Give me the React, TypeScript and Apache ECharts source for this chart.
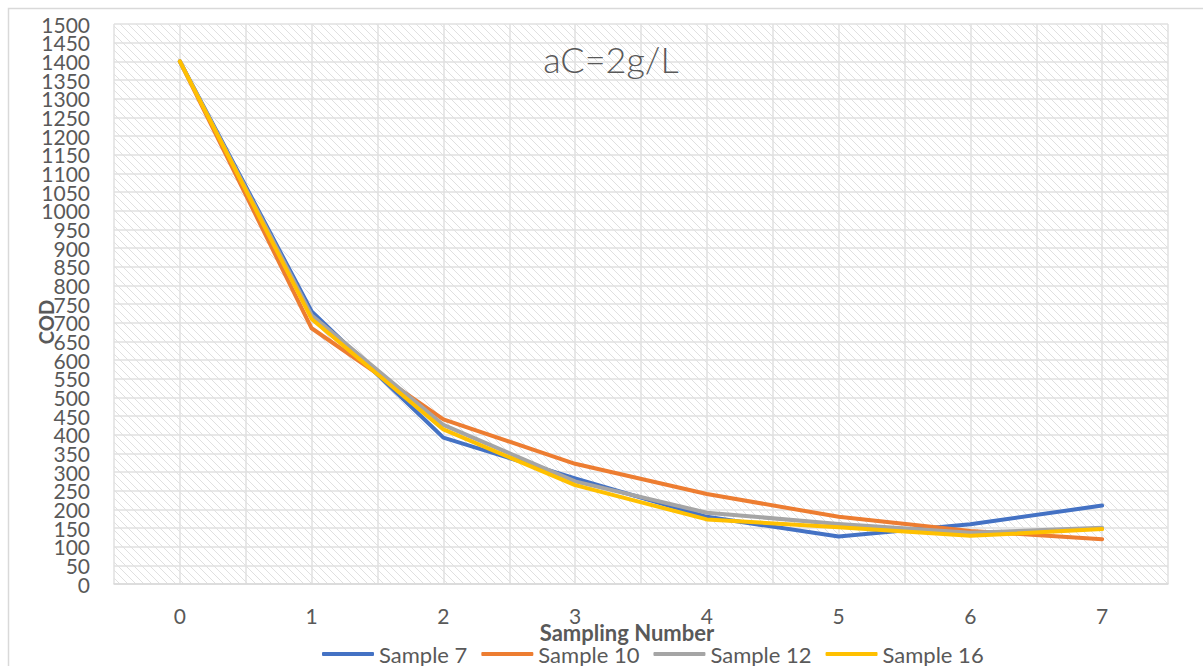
import React, { useEffect, useRef } from "react";
import * as echarts from "echarts";

const categories = [0, 1, 2, 3, 4, 5, 6, 7];
const sample7 = [1400, 730, 392, 283, 180, 127, 160, 210];
const sample10 = [1400, 685, 441, 322, 241, 180, 142, 120];
const sample12 = [1400, 720, 426, 275, 191, 161, 137, 151];
const sample16 = [1400, 710, 414, 265, 173, 152, 129, 147];
const seriesNames = ["Sample 7", "Sample 10", "Sample 12", "Sample 16"];
const seriesColors = ["#4472C4", "#ED7D31", "#A5A5A5", "#FFC000"];
const yMin = 0;
const yMax = 1500;
const yStep = 50;

const TEXT = "#595959";
const FONT = "Lato, 'Open Sans', sans-serif";

const tile =
  "data:image/svg+xml;charset=utf-8," +
  encodeURIComponent(
    "<svg xmlns='http://www.w3.org/2000/svg' width='8' height='8'>" +
      "<rect width='8' height='8' fill='#ffffff'/>" +
      "<path d='M-1,-1 L9,9 M-1,7 L1,9 M7,-1 L9,1' stroke='#e0e0e0' stroke-width='1' fill='none'/>" +
      "</svg>"
  );

export default function App() {
  const ref = useRef<HTMLDivElement>(null);
  useEffect(() => {
    document.body.style.margin = "0";
    if (!ref.current) return;
    const chart = echarts.init(ref.current, null, { renderer: "svg" });
    const allData = [sample7, sample10, sample12, sample16];
    const yBase = {
      type: "value",
      min: yMin,
      max: yMax,
      interval: yStep,
      position: "left",
      axisLine: { show: false },
      axisTick: { show: false },
    };
    chart.setOption({
      animation: false,
      backgroundColor: "#ffffff",
      textStyle: { fontFamily: FONT },
      grid: {
        show: true,
        left: 114,
        right: 35,
        top: 24,
        bottom: 82,
        borderWidth: 0,
        backgroundColor: {
          image: tile,
          repeat: "repeat",
          imageWidth: 8,
          imageHeight: 8,
        },
      },
      graphic: [
        {
          type: "rect",
          silent: true,
          shape: { x: 8.5, y: 8.5, width: 1210, height: 700 },
          style: { fill: "none", stroke: "#d9d9d9", lineWidth: 1.5 },
          z: -1,
        },
        {
          type: "text",
          x: 611,
          y: 59,
          style: {
            text: "aC=2g/L",
            fill: TEXT,
            font: `300 36px ${FONT}`,
            align: "center",
            verticalAlign: "middle",
          },
          z: 10,
        },
        {
          type: "text",
          x: 46,
          y: 322,
          rotation: Math.PI / 2,
          style: {
            text: "COD",
            fill: TEXT,
            font: `bold 20px ${FONT}`,
            align: "center",
            verticalAlign: "middle",
          },
        },
        {
          type: "text",
          x: 627,
          y: 632,
          style: {
            text: "Sampling Number",
            fill: TEXT,
            font: `bold 22px ${FONT}`,
            align: "center",
            verticalAlign: "middle",
          },
          z: 10,
        },
      ],
      legend: {
        data: seriesNames,
        left: 322,
        top: 643,
        padding: 0,
        icon: "roundRect",
        itemWidth: 52,
        itemHeight: 4,
        itemGap: 14,
        textStyle: { color: TEXT, fontSize: 22, lineHeight: 22, fontFamily: FONT },
      },
      xAxis: {
        type: "value",
        min: -0.5,
        max: 7.5,
        interval: 0.5,
        axisLine: { show: true, lineStyle: { color: "#d9d9d9", width: 1.5 } },
        axisTick: { show: false },
        axisLabel: {
          color: TEXT,
          fontSize: 21,
          margin: 21,
          formatter: (v: number) => (Number.isInteger(v) && v >= 0 ? String(v) : ""),
        },
        splitLine: { show: true, lineStyle: { color: "#e0e0e0", width: 1.5 } },
      },
      yAxis: [
        {
          ...yBase,
          axisLabel: {
            color: TEXT,
            fontSize: 21,
            margin: 24,
            showMinLabel: false,
            showMaxLabel: false,
            formatter: (v: number) => String(v),
          },
          splitLine: { show: true, lineStyle: { color: "#e0e0e0", width: 1.5 } },
        },
        {
          ...yBase,
          axisLabel: {
            color: TEXT,
            fontSize: 21,
            margin: 24,
            showMinLabel: true,
            showMaxLabel: true,
            formatter: (v: number) => (v === yMin || v === yMax ? String(v) : ""),
          },
          splitLine: { show: false },
        },
      ],
      series: seriesNames.map((name, i) => ({
        name,
        type: "line",
        symbol: "none",
        yAxisIndex: 0,
        color: seriesColors[i],
        lineStyle: { width: 4, color: seriesColors[i], cap: "round", join: "round" },
        data: categories.map((c, j) => [c, allData[i][j]]),
      })),
    });
    return () => chart.dispose();
  }, []);
  return <div ref={ref} style={{ width: 1203, height: 666 }} />;
}
